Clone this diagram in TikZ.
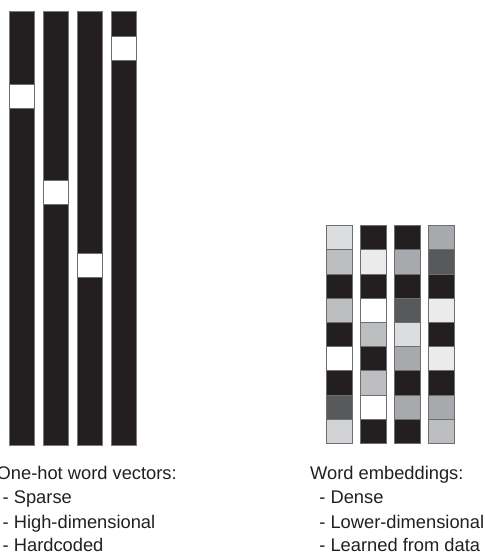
\documentclass[tikz,border=0pt]{standalone}
\usepackage{fontspec}
\setmainfont{Liberation Sans}
\definecolor{cK}{HTML}{231F20}
\definecolor{cW}{HTML}{FFFFFF}
\definecolor{cV}{HTML}{EBEBEC}
\definecolor{cL}{HTML}{DCDDDE}
\definecolor{cLL}{HTML}{D1D3D4}
\definecolor{cM}{HTML}{BCBEC0}
\definecolor{cG}{HTML}{A7A9AC}
\definecolor{cD}{HTML}{58595B}
\definecolor{edge}{HTML}{6D6E71}
\tikzset{
  txt/.style={anchor=base west, inner sep=0pt, text=cK, font=\fontsize{18.3}{22}\selectfont},
  bar/.style={fill=cK, draw=cK!60!white, line width=0.5pt},
  hot/.style={fill=white, draw=edge, line width=0.8pt},
  cell/.style={draw=edge, line width=0.8pt}
}
\begin{document}
\begin{tikzpicture}[x=1pt,y=-1pt]
\useasboundingbox (0,0) rectangle (484,553);
% one-hot vectors
\foreach \i/\k in {0/3,1/7,2/10,3/1} {
  \filldraw[bar] (9+34*\i,11) rectangle ++(25.3,434.5);
  \filldraw[hot] (9+34*\i,12+24.1*\k) rectangle ++(25.3,24.1);
}
% embeddings
\foreach \col [count=\i from 0] in {{L,M,K,M,K,W,K,D,LL},{K,V,K,W,M,K,M,W,K},{K,G,K,D,L,G,K,G,K},{G,D,K,V,K,V,K,G,M}} {
  \foreach \c [count=\j from 0] in \col {
    \filldraw[cell, fill=c\c] (326.7+34*\i,225.7+24.18*\j) rectangle ++(25.2,24.18);
  }
}
% texts
\node[txt] (oh1) at (-3.5,479) {One-hot word vectors:};
\node[txt] (oh2) at (2.5,503.5) {- Sparse};
\node[txt] (oh3) at (2.5,528) {- High-dimensional};
\node[txt] (oh4) at (2.5,551.5) {- Hardcoded};
\node[txt] (we1) at (310,479) {Word embeddings:};
\node[txt] (we2) at (319.2,503.5) {- Dense};
\node[txt] (we3) at (319.2,528) {- Lower-dimensional};
\node[txt] (we4) at (319.2,551.5) {- Learned from data};
\end{tikzpicture}
\end{document}
